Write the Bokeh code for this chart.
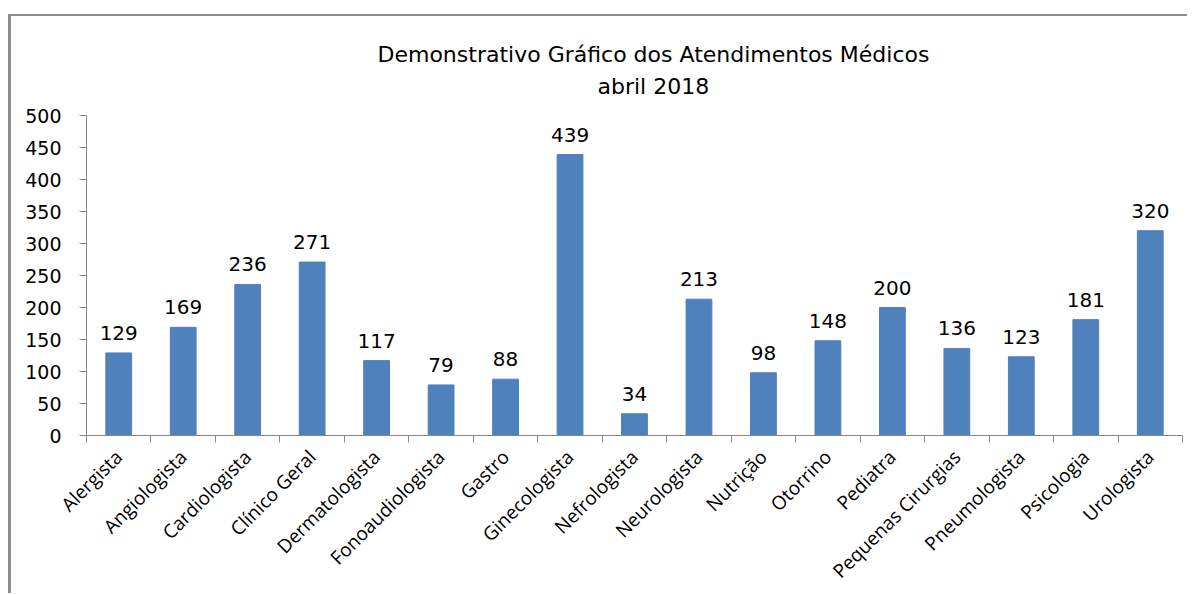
import math
from bokeh.plotting import figure
from bokeh.models import FixedTicker, Range1d, Title
from bokeh.core.properties import value
from bokeh.embed import file_html
from bokeh.resources import INLINE

categories = ["Alergista", "Angiologista", "Cardiologista", "Clínico Geral", "Dermatologista",
              "Fonoaudiologista", "Gastro", "Ginecologista", "Nefrologista", "Neurologista",
              "Nutrição", "Otorrino", "Pediatra", "Pequenas Cirurgias", "Pneumologista",
              "Psicologia", "Urologista"]
values = [129, 169, 236, 271, 117, 79, 88, 439, 34, 213, 98, 148, 200, 136, 123, 181, 320]
y_ticks = [0, 50, 100, 150, 200, 250, 300, 350, 400, 450, 500]
title_line1 = "Demonstrativo Gráfico dos Atendimentos Médicos"
title_line2 = "abril 2018"

idx = list(range(len(categories)))
n = len(categories)

BAR = "#4F81BD"
AXIS = "#868686"

p = figure(width=1179, height=579, output_backend="svg", toolbar_location=None,
           x_range=Range1d(-0.5, n - 0.5), y_range=Range1d(0, 500),
           min_border_left=75, min_border_right=8, min_border_top=99, min_border_bottom=150,
           styles={"margin-left": "8px", "margin-top": "14px",
                   "border-top": "2px solid #8c8c8c",
                   "border-left": "3px solid #8c8c8c"})

p.vbar(x=idx, top=values, width=0.4, color=BAR)
p.text(x=idx, y=values, text=[str(v) for v in values], text_align="center",
       text_baseline="bottom", y_offset=-13, text_font=value("DejaVu Sans"),
       text_font_size="20px", text_color="black")

p.outline_line_color = None
p.grid.grid_line_color = None

# y axis
p.yaxis.ticker = FixedTicker(ticks=y_ticks)
p.yaxis.axis_line_color = AXIS
p.yaxis.major_tick_line_color = AXIS
p.yaxis.major_tick_out = 7
p.yaxis.major_tick_in = 0
p.yaxis.minor_tick_line_color = None
p.yaxis.major_label_standoff = 18
p.yaxis.major_label_text_font = "DejaVu Sans"
p.yaxis.major_label_text_font_size = "19px"
p.yaxis.major_label_text_color = "black"

# x axis: labels at centres, ticks at category boundaries
p.xaxis.ticker = FixedTicker(ticks=idx, minor_ticks=[i - 0.5 for i in range(n + 1)])
p.xaxis.major_label_overrides = {i: c for i, c in zip(idx, categories)}
p.xaxis.axis_line_color = AXIS
p.xaxis.major_tick_line_color = None
p.xaxis.major_tick_out = 0
p.xaxis.major_tick_in = 0
p.xaxis.minor_tick_line_color = AXIS
p.xaxis.minor_tick_out = 7
p.xaxis.minor_tick_in = 0
p.xaxis.major_label_orientation = math.pi / 4
p.xaxis.major_label_standoff = 11
p.xaxis.major_label_text_font = "Open Sans"
p.xaxis.major_label_text_font_size = "19px"
p.xaxis.major_label_text_color = "black"

p.add_layout(Title(text=title_line2, align="left", offset=511, standoff=33,
                   text_font="DejaVu Sans", text_font_size="22px", text_font_style="normal",
                   text_color="black"), "above")
p.add_layout(Title(text=title_line1, align="left", offset=291, standoff=-23,
                   text_font="DejaVu Sans", text_font_size="22px", text_font_style="normal",
                   text_color="black"), "above")

open("out.html", "w").write(file_html(p, INLINE))
